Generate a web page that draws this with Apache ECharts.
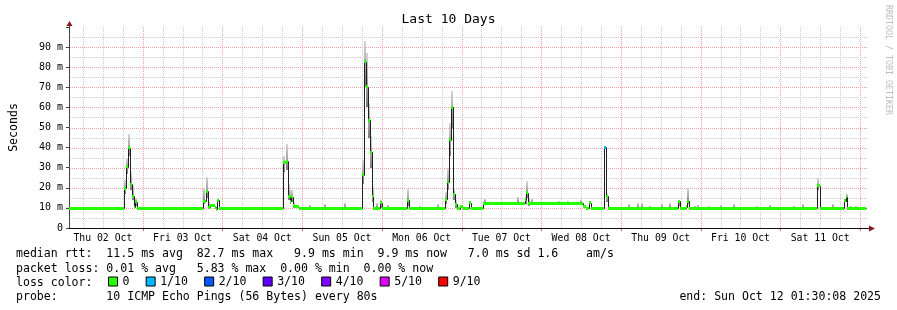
<!DOCTYPE html>
<html><head><meta charset="utf-8">
<script src="https://cdn.jsdelivr.net/npm/echarts@6/dist/echarts.min.js"></script>
<style>html,body{margin:0;padding:0;background:#fff}#c{width:897px;height:310px}</style>
</head><body><div id="c"></div>
<script>
// ---------- data (time = hours since Thu 02 Oct 00:00, values in ms) ----------
const medianHours = [1.8, 18.3, 19.0, 19.6, 20.3, 20.9, 21.5, 21.8, 22.2, 42.3, 43.0, 43.6, 44.2, 45.7, 46.1, 46.5, 47.1,
  66.2, 67.05, 67.65, 68.2, 68.7, 69.2, 69.6, 71.2, 90.0, 90.6, 91.2, 91.7, 92.3, 92.9, 93.4, 95.4, 96.0,
  103.6, 104.2, 115.0, 115.6, 116.2, 116.8, 117.4, 118.0, 118.6, 119.4, 120.3, 122.2, 122.8, 126.6,
  139.0, 139.5, 140.1, 156.6, 157.5, 158.4, 159.0, 163.0, 163.6, 164.2, 185.1, 185.7, 187.5, 187.9, 188.5,
  227.0, 227.8, 235.2, 235.7, 236.1, 241.8];
const medianValues = [9.9, 19.7, 30.5, 40.0, 21.7, 15.9, 10.3, 13.1, 9.9, 13.4, 18.4, 10.3, 11.0, 10.3, 9.4, 13.9, 9.9,
  32.7, 33.3, 15.6, 13.4, 15.6, 11.0, 10.6, 9.9, 26.5, 82.7, 70.3, 53.7, 37.7, 15.6, 9.9, 12.6, 9.9,
  13.9, 9.9, 14.3, 23.0, 43.8, 60.0, 16.9, 11.9, 9.5, 10.6, 9.8, 12.6, 9.9, 12.2,
  14.0, 17.6, 12.2, 10.6, 9.9, 12.6, 9.9, 40.1, 15.9, 9.9, 13.4, 9.9, 10.6, 13.4, 9.9,
  20.9, 9.9, 13.6, 15.6, 9.9, 9.9];
const lostPings = [0, 0, 0, 0, 0, 0, 0, 0, 0, 0, 0, 0, 0, 0, 0, 0, 0,
  0, 0, 0, 0, 0, 0, 0, 0, 0, 0, 0, 0, 0, 0, 0, 0, 0,
  0, 0, 0, 0, 0, 0, 0, 0, 0, 0, 0, 0, 0, 0,
  0, 0, 0, 0, 0, 0, 0, 1, 0, 0, 0, 0, 0, 0, 0,
  0, 0, 0, 0, 0, 0];

const smokeHours = [18.3, 19.0, 19.6, 20.3, 20.9, 21.8, 42.3, 43.0, 43.6,
  66.2, 67.0, 67.6, 68.2, 68.7, 69.2, 90.0, 90.6, 91.2, 91.7, 92.3, 92.9, 95.4,
  103.6, 115.0, 115.6, 116.2, 116.8, 117.4, 118.0, 139.0, 139.5, 140.1, 163.6, 185.1, 187.9, 227.0, 235.7,
  74.0, 78.5, 84.5, 94.2, 97.5, 107.1, 112.6, 126.7, 136.7, 141.0, 149.0, 151.7, 155.8,
  170.2, 172.8, 173.9, 176.4, 180.2, 182.4, 189.9, 191.0, 194.3, 197.9, 201.6, 208.8, 212.7,
  219.8, 222.5, 231.5, 237.0, 238.5];
const smokeLow = [17, 27, 36, 19, 14, 11, 12, 15, 10,
  28, 29, 14, 12, 13, 10, 22, 70, 60, 45, 30, 13, 10,
  11, 12, 19, 36, 50, 14, 10, 12, 15, 11, 13, 11, 12, 19, 13,
  9.9, 9.9, 9.9, 9.9, 9.9, 9.9, 9.9, 12.2, 12.2, 12.2, 12.2, 12.2, 12.2,
  9.9, 9.9, 9.9, 9.9, 9.9, 9.9, 9.9, 9.9, 9.9, 9.9, 9.9, 9.9, 9.9,
  9.9, 9.9, 9.9, 9.9, 9.9];
const smokeHigh = [24, 35, 47, 28, 21, 15, 20, 25.5, 13,
  36, 42, 22, 19, 19, 13, 34, 93, 87, 62, 46, 20.5, 14,
  19.3, 18, 30, 52, 68, 20, 14, 16, 23.5, 15, 17, 14, 19.7, 24.7, 16.9,
  11.4, 12, 12.6, 12.6, 11.4, 11, 12, 14.6, 15.6, 14.6, 13.6, 13.4, 14,
  12, 12.3, 12.6, 11, 12, 12.4, 11, 11.4, 11, 11.4, 12, 11, 11.4,
  11, 12, 12, 11, 11];

const dayLabels = ['Thu 02 Oct', 'Fri 03 Oct', 'Sat 04 Oct', 'Sun 05 Oct', 'Mon 06 Oct',
  'Tue 07 Oct', 'Wed 08 Oct', 'Thu 09 Oct', 'Fri 10 Oct', 'Sat 11 Oct'];
const dayLabelHours = [12, 36, 60, 84, 108, 132, 156, 180, 204, 228];
const vGridHours = [6, 12, 18, 24, 30, 36, 42, 48, 54, 60, 66, 72, 78, 84, 90, 96, 102, 108, 114, 120,
  126, 132, 138, 144, 150, 156, 162, 168, 174, 180, 186, 192, 198, 204, 210, 216, 222, 228, 234, 240];
const hGridValues = [5, 10, 15, 20, 25, 30, 35, 40, 45, 50, 55, 60, 65, 70, 75, 80, 85, 90, 95];

const lossLevels = ['0', '1/10', '2/10', '3/10', '4/10', '5/10', '9/10'];
const lossLevelCounts = [0, 1, 2, 3, 4, 5, 9];
const lossColors = ['#26ff00', '#00b8ff', '#0059ff', '#5e00ff', '#7e00ff', '#dd00ff', '#ff0000'];

const statLines = [
  'median rtt:  11.5 ms avg  82.7 ms max   9.9 ms min  9.9 ms now   7.0 ms sd 1.6    am/s',
  'packet loss: 0.01 % avg   5.83 % max  0.00 % min  0.00 % now',
  'loss color:',
  'probe:       10 ICMP Echo Pings (56 Bytes) every 80s'
];
const endText = 'end: Sun Oct 12 01:30:08 2025';

// ---------- layout / style constants ----------
const X_MIN = 1.8, X_MAX = 242.4, Y_MIN = 0, Y_MAX = 100;
const SMOKE_BIN = 0.6;
const MONO = '"DejaVu Sans Mono", monospace';
const GRID_GREY = '#cdcdcd', GRID_RED = '#eea2a2';

function levelOf(lost) {
  let k = 0;
  for (let j = 0; j < lossLevelCounts.length; j++) if (lost >= lossLevelCounts[j]) k = j;
  return k;
}

const n = medianHours.length;
const stepData = [];
for (let i = 0; i < n - 1; i++) {
  stepData.push([medianHours[i], medianHours[i + 1], i > 0 ? medianValues[i - 1] : medianValues[i], medianValues[i]]);
}
const smokeData = smokeHours.map((h, i) => [h, h + SMOKE_BIN, smokeLow[i], smokeHigh[i]]);

const smokeFill = new echarts.graphic.LinearGradient(0, 0, 0, 1, [
  { offset: 0, color: '#d6d6d6' }, { offset: 1, color: '#7c7c7c' }]);

const bandSeries = lossLevels.map((name, k) => {
  const data = [];
  for (let i = 0; i < n - 1; i++) {
    if (levelOf(lostPings[i]) === k) data.push([medianHours[i], medianHours[i + 1], medianValues[i]]);
  }
  return {
    name: name, type: 'custom', z: 5, itemStyle: { color: lossColors[k] },
    encode: { x: [0, 1], y: 2 }, data: data,
    renderItem: function (params, api) {
      const s = api.coord([api.value(0), api.value(2)]);
      const e = api.coord([api.value(1), api.value(2)]);
      const x0 = Math.round(s[0]), x1 = Math.max(Math.round(e[0]), x0 + 1);
      return { type: 'rect', shape: { x: x0, y: Math.round(s[1] - 1.5), width: x1 - x0, height: 3 },
        style: { fill: lossColors[k] } };
    }
  };
});

const chart = echarts.init(document.getElementById('c'), null, { renderer: 'canvas' });

const texts = [
  { id: 't1', type: 'text', x: 16, y: 254.4, style: { text: statLines[0], fontFamily: MONO, fontSize: 11.55, fill: '#000', align: 'left', verticalAlign: 'middle' } },
  { id: 't2', type: 'text', x: 16, y: 268.6, style: { text: statLines[1], fontFamily: MONO, fontSize: 11.55, fill: '#000', align: 'left', verticalAlign: 'middle' } },
  { id: 't3', type: 'text', x: 16, y: 282.8, style: { text: statLines[2], fontFamily: MONO, fontSize: 11.55, fill: '#000', align: 'left', verticalAlign: 'middle' } },
  { id: 't4', type: 'text', x: 16, y: 297, style: { text: statLines[3], fontFamily: MONO, fontSize: 11.55, fill: '#000', align: 'left', verticalAlign: 'middle' } },
  { id: 't5', type: 'text', x: 881, y: 297, style: { text: endText, fontFamily: MONO, fontSize: 11.55, fill: '#000', align: 'right', verticalAlign: 'middle' } },
  { id: 'wm', type: 'text', x: 888, y: 5, rotation: -Math.PI / 2, style: { text: 'RRDTOOL / TOBI OETIKER', fontFamily: MONO, fontSize: 8.3, fill: '#bdbdbd', align: 'left', verticalAlign: 'middle' } }
];

chart.setOption({
  animation: false,
  backgroundColor: '#fff',
  title: { text: 'Last 10 Days', left: 'center', top: 8,
    textStyle: { fontFamily: MONO, fontSize: 13, fontWeight: 'normal', color: '#000' } },
  grid: { left: 66, right: 29, top: 27, bottom: 82, containLabel: false },
  legend: {
    left: 108, top: 275.5, padding: 0, itemWidth: 9, itemHeight: 9, itemGap: 16.2,
    selectedMode: false, icon: 'rect',
    itemStyle: { borderColor: '#000', borderWidth: 1 },
    textStyle: { fontFamily: MONO, fontSize: 11.55, color: '#000' },
    data: lossLevels
  },
  xAxis: {
    type: 'value', min: X_MIN, max: X_MAX,
    axisLine: { show: true, onZero: false, lineStyle: { color: '#111', width: 1 } },
    axisTick: { show: false },
    axisLabel: { customValues: dayLabelHours, margin: 5, fontFamily: MONO, fontSize: 9.8, color: '#000',
      formatter: v => dayLabels[dayLabelHours.indexOf(v)] || '' },
    splitLine: { show: false }
  },
  yAxis: {
    type: 'value', min: Y_MIN, max: Y_MAX, interval: 10,
    name: 'Seconds', nameLocation: 'middle', nameRotate: 90, nameGap: 49,
    nameTextStyle: { fontFamily: MONO, fontSize: 11.55, color: '#000' },
    axisLine: { show: true, lineStyle: { color: '#444', width: 1 } },
    axisTick: { show: true, length: 3, lineStyle: { color: '#444' } },
    axisLabel: { margin: 6, fontFamily: MONO, fontSize: 10, color: '#000',
      formatter: v => v === 0 ? '0' : (v >= Y_MAX ? '' : v + ' m') },
    splitLine: { show: false }
  },
  graphic: { elements: texts },
  series: [
    {
      name: 'vgrid', type: 'custom', z: 1, silent: true, encode: { x: 0, y: 1 },
      data: vGridHours.map(h => [h, Y_MIN]),
      renderItem: function (params, api) {
        const cs = params.coordSys;
        const h = api.value(0);
        const p = api.coord([h, Y_MIN]);
        const x = Math.round(p[0]) + 0.5;
        const major = h % 24 === 0;
        const col = major ? GRID_RED : GRID_GREY;
        const children = [{ type: 'line', shape: { x1: x, y1: cs.y, x2: x, y2: cs.y + cs.height },
          style: { stroke: col, lineWidth: 1, lineDash: [1, 1] } }];
        if (major) children.push({ type: 'line', shape: { x1: x, y1: cs.y + cs.height + 1, x2: x, y2: cs.y + cs.height + 3 },
          style: { stroke: '#e06060', lineWidth: 1 } });
        return { type: 'group', children: children };
      }
    },
    {
      name: 'hgrid', type: 'custom', z: 1, silent: true, encode: { x: 0, y: 1 },
      data: hGridValues.map(v => [X_MIN, v]),
      renderItem: function (params, api) {
        const cs = params.coordSys;
        const v = api.value(1);
        const p = api.coord([X_MIN, v]);
        const y = Math.round(p[1]) + 0.5;
        const major = v % 10 === 0;
        return { type: 'line', shape: { x1: cs.x + 1, y1: y, x2: cs.x + cs.width, y2: y },
          style: { stroke: major ? GRID_RED : GRID_GREY, lineWidth: 1, lineDash: [1, 1] } };
      }
    },
    {
      name: 'smoke', type: 'custom', z: 3, encode: { x: [0, 1], y: [2, 3] }, data: smokeData,
      renderItem: function (params, api) {
        const a = api.coord([api.value(0), api.value(3)]);
        const b = api.coord([api.value(1), api.value(2)]);
        const x0 = Math.round(a[0]), x1 = Math.max(Math.round(b[0]), x0 + 1);
        const y0 = Math.round(a[1]), y1 = Math.round(b[1]);
        return { type: 'rect', shape: { x: x0, y: y0, width: x1 - x0, height: Math.max(y1 - y0, 1) },
          style: { fill: smokeFill } };
      }
    },
    {
      name: 'median', type: 'custom', z: 4, encode: { x: [0, 1], y: [2, 3] }, data: stepData,
      renderItem: function (params, api) {
        const p = api.coord([api.value(0), api.value(2)]);
        const q = api.coord([api.value(0), api.value(3)]);
        const r = api.coord([api.value(1), api.value(3)]);
        const x0 = Math.round(p[0]) + 0.5, x1 = Math.round(r[0]) + 0.5;
        return { type: 'polyline', shape: { points: [[x0, Math.round(p[1]) + 0.5], [x0, Math.round(q[1]) + 0.5], [x1, Math.round(r[1]) + 0.5]] },
          style: { stroke: '#202020', lineWidth: 1, fill: null } };
      }
    }
  ].concat(bandSeries)
});

const o = chart.convertToPixel({ gridIndex: 0 }, [X_MAX, Y_MIN]);
const t = chart.convertToPixel({ gridIndex: 0 }, [X_MIN, Y_MAX]);
const ax = Math.round(o[0]), ay = Math.round(o[1]) + 0.5;
const tx = Math.round(t[0]) + 0.5, ty = Math.round(t[1]);
chart.setOption({
  graphic: { elements: texts.concat([
    { id: 'xline', type: 'line', shape: { x1: ax - 1, y1: ay, x2: ax + 2, y2: ay }, style: { stroke: '#111', lineWidth: 1 } },
    { id: 'xarrow', type: 'polygon', shape: { points: [[ax + 1, ay - 3], [ax + 7, ay], [ax + 1, ay + 3]] }, style: { fill: '#8a1a1a' } },
    { id: 'yline', type: 'line', shape: { x1: tx, y1: ty + 1, x2: tx, y2: ty - 1 }, style: { stroke: '#444', lineWidth: 1 } },
    { id: 'yarrow', type: 'polygon', shape: { points: [[tx - 3, ty - 1], [tx, ty - 6], [tx + 3, ty - 1]] }, style: { fill: '#8a1a1a' } }
  ]) }
});
</script>
</body></html>
